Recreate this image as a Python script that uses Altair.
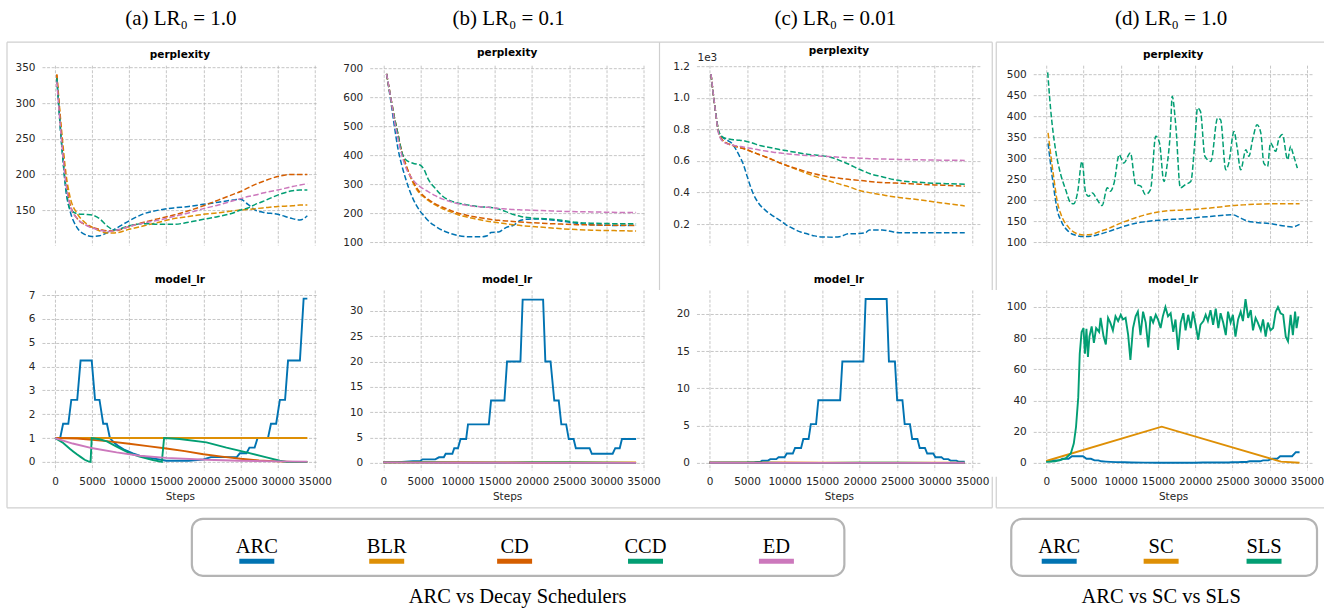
import altair as alt
import pandas as pd

# ----------------------------------------------------------------- data
SERIES_DECAY = ["ARC", "BLR", "CD", "CCD", "ED"]
SERIES_D = ["ARC", "SC", "SLS"]
ALL_SERIES = ["ARC", "BLR", "CD", "CCD", "ED", "SC", "SLS"]
PALETTE = {"ARC": "#0173b2", "BLR": "#de8f05", "CD": "#d55e00", "CCD": "#029e73",
           "ED": "#cc78bc", "SC": "#de8f05", "SLS": "#029e73"}
COLUMN_TITLES = ["(a) LR\u2080 = 1.0", "(b) LR\u2080 = 0.1", "(c) LR\u2080 = 0.01", "(d) LR\u2080 = 1.0"]
PANEL_TITLES = ["perplexity", "model_lr"]
CAPTIONS = ["ARC vs Decay Schedulers", "ARC vs SC vs SLS"]
X_TICKS = [0, 5000, 10000, 15000, 20000, 25000, 30000, 35000]
Y_TICKS_TOP = [[150, 200, 250, 300, 350], [100, 200, 300, 400, 500, 600, 700],
               [200, 400, 600, 800, 1000, 1200], [100, 150, 200, 250, 300, 350, 400, 450, 500]]
Y_TICKS_BOT = [[0, 1, 2, 3, 4, 5, 6, 7], [0, 5, 10, 15, 20, 25, 30], [0, 5, 10, 15, 20],
               [0, 20, 40, 60, 80, 100]]

# (a) LR0 = 1.0 perplexity
A_PPL_STEPS = [250, 1000, 1500, 2000, 3000, 4000, 5000, 6000, 7000, 8000, 10000, 12000, 14000,
               16000, 18000, 20000, 22000, 24000, 25000, 26000, 27000, 28000, 30000, 32000, 33000, 34000]
A_PPL_ARC = [335, 230, 175, 150, 125, 116, 113, 114, 118, 123, 135, 145, 150, 153, 155, 158, 161, 164,
             165, 158, 150, 147, 144, 138, 136, 142]
A_PPL_BLR = [340, 250, 200, 170, 145, 133, 126, 121, 118, 118, 123, 128, 133, 138, 141, 144, 146, 149,
             150, 151, 152, 153, 155, 156, 157, 157]
A_PPL_CD = [340, 240, 190, 160, 138, 130, 126, 123, 121, 121, 127, 133, 138, 143, 149, 156, 164, 172,
            176, 181, 186, 190, 197, 200, 200, 200]
A_PPL_CCD = [335, 230, 180, 152, 145, 144, 143, 138, 128, 122, 128, 131, 130, 130, 133, 137, 141, 146,
             150, 153, 158, 162, 171, 177, 178, 178]
A_PPL_ED = [330, 235, 185, 158, 138, 130, 125, 122, 120, 121, 127, 132, 136, 141, 146, 152, 157, 163,
            166, 169, 171, 174, 178, 183, 185, 187]

# (a) LR0 = 1.0 learning rate
A_LR_ARC_STEPS = [0, 700, 1100, 1800, 2200, 3000, 3450, 4950, 5400, 6000, 6500, 7000, 7400, 8000, 8600,
                  9400, 10500, 11400, 13200, 15000, 18000, 20000, 21000, 24500, 24900, 25800, 26200,
                  26900, 27300, 28700, 29100, 29800, 30300, 31000, 31400, 33000, 33500, 34000]
A_LR_ARC = [1.0, 1.0, 1.6, 1.6, 2.6, 2.6, 4.25, 4.25, 2.6, 2.6, 1.6, 1.6, 1.0, 0.8, 0.65, 0.5, 0.36,
            0.26, 0.15, 0.05, 0.05, 0.1, 0.2, 0.2, 0.36, 0.36, 0.6, 0.6, 1.0, 1.0, 1.6, 1.6, 2.6, 2.6,
            4.25, 4.25, 6.85, 6.85]
A_LR_BLR_STEPS = [0, 34000]
A_LR_BLR = [1.0, 1.0]
A_LR_CD_STEPS = [0, 3000, 7000, 10000, 12500, 15000, 17500, 20000, 22500, 25000, 27500, 30000, 32000, 34000]
A_LR_CD = [1.0, 0.98, 0.87, 0.76, 0.66, 0.56, 0.45, 0.32, 0.22, 0.13, 0.06, 0.02, 0.0, 0.0]
A_LR_CCD_STEPS = [0, 1000, 2000, 2500, 3000, 3500, 4000, 4500, 4800, 4950, 6000, 7000, 8300, 10100,
                  11400, 13200, 14400, 14700, 16800, 20400, 23100, 25800, 28500, 30300, 31200, 34000]
A_LR_CCD = [1.0, 0.82, 0.55, 0.43, 0.31, 0.2, 0.09, 0.02, 0.0, 1.0, 0.95, 0.86, 0.64, 0.36, 0.22, 0.08,
            0.0, 1.0, 0.96, 0.82, 0.6, 0.4, 0.19, 0.05, 0.0, 0.0]
A_LR_ED_STEPS = [0, 2400, 5100, 8300, 11400, 15000, 20400, 24800, 30300, 34000]
A_LR_ED = [1.0, 0.77, 0.57, 0.4, 0.26, 0.17, 0.09, 0.05, 0.02, 0.01]

# (b) LR0 = 0.1 perplexity
B_PPL_STEPS = [450, 1000, 1500, 2000, 2500, 3000, 4000, 5000, 5500, 6000, 7000, 8000, 9000, 10000,
               11000, 12000, 13000, 14000, 14500, 15500, 16500, 17500, 18500, 20000, 22000, 24000,
               26000, 28000, 30000, 32000, 34000]
B_PPL_ARC = [680, 590, 500, 420, 365, 320, 250, 205, 190, 175, 155, 140, 130, 123, 119, 118, 118, 122,
             133, 135, 150, 158, 175, 180, 178, 172, 165, 160, 158, 157, 158]
B_PPL_BLR = [680, 600, 530, 470, 410, 370, 305, 265, 255, 245, 228, 215, 205, 195, 188, 182, 177, 172,
             170, 167, 163, 160, 157, 154, 150, 146, 143, 141, 140, 139, 138]
B_PPL_CD = [680, 600, 530, 470, 410, 370, 310, 270, 258, 248, 232, 220, 210, 200, 194, 188, 184, 180,
            178, 175, 173, 171, 169, 167, 164, 162, 160, 159, 158, 158, 157]
B_PPL_CCD = [680, 600, 530, 470, 410, 385, 372, 365, 350, 320, 285, 258, 243, 235, 230, 225, 222, 220,
             219, 214, 205, 195, 188, 183, 180, 175, 168, 165, 164, 163, 163]
B_PPL_ED = [680, 600, 520, 455, 400, 360, 315, 290, 282, 275, 260, 248, 240, 233, 228, 224, 222, 220,
            219, 216, 214, 212, 211, 210, 208, 206, 205, 204, 203, 202, 202]

# (b) LR0 = 0.1 learning rate
B_LR_ARC_STEPS = [0, 2000, 3000, 4000, 5000, 5300, 7000, 7500, 8150, 8400, 9300, 9550, 10050, 10400,
                  11150, 11400, 14200, 14500, 16300, 16650, 18450, 18750, 21500, 21800, 22500, 23000,
                  23600, 23950, 24600, 24950, 25600, 25900, 27750, 28050, 30850, 31200, 31800, 32100, 34000]
B_LR_ARC = [0.1, 0.15, 0.25, 0.35, 0.4, 0.7, 0.7, 1.1, 1.1, 1.8, 1.8, 2.9, 2.9, 4.7, 4.7, 7.6, 7.6,
            12.3, 12.3, 20.0, 20.0, 32.2, 32.2, 20.0, 20.0, 12.3, 12.3, 7.6, 7.6, 4.7, 4.7, 2.9, 2.9,
            1.8, 1.8, 2.9, 2.9, 4.7, 4.7]
B_LR_FLAT_STEPS = [0, 5000, 10000, 15000, 20000, 25000, 30000, 34000]
B_LR_BLR = [0.1, 0.1, 0.1, 0.1, 0.1, 0.1, 0.1, 0.1]
B_LR_CD = [0.1, 0.095, 0.08, 0.056, 0.032, 0.013, 0.002, 0.0]
B_LR_CCD = [0.1, 0.1, 0.06, 0.02, 0.095, 0.07, 0.02, 0.0]
B_LR_ED = [0.1, 0.057, 0.037, 0.017, 0.009, 0.005, 0.002, 0.001]

# (c) LR0 = 0.01 perplexity
C_PPL_STEPS = [200, 700, 1300, 2000, 3000, 4000, 4500, 5000, 5800, 6500, 7500, 8500, 9500, 10200, 11000,
               12000, 13000, 14000, 15000, 16500, 17500, 18500, 20000, 20800, 21300, 23000, 24500, 25500,
               28000, 30000, 32000, 34000]
C_PPL_ARC = [1150, 950, 770, 740, 710, 630, 580, 505, 395, 335, 285, 250, 220, 195, 175, 152, 138, 125,
             118, 117, 122, 138, 140, 145, 163, 163, 150, 145, 145, 145, 145, 145]
C_PPL_BLR = [1150, 950, 770, 720, 700, 685, 678, 670, 655, 642, 625, 605, 585, 572, 557, 538, 520, 503,
             487, 465, 450, 437, 412, 404, 399, 385, 373, 367, 353, 340, 327, 315]
C_PPL_CD = [1150, 950, 770, 720, 700, 685, 678, 670, 655, 642, 625, 605, 585, 572, 560, 545, 530, 518,
            507, 495, 489, 483, 476, 472, 469, 463, 460, 458, 452, 448, 444, 440]
C_PPL_CCD = [1150, 950, 780, 745, 735, 730, 728, 722, 712, 700, 690, 680, 670, 665, 658, 650, 642, 637,
             633, 618, 600, 580, 545, 530, 520, 500, 482, 474, 464, 458, 455, 452]
C_PPL_ED = [1150, 950, 760, 715, 700, 692, 688, 683, 677, 670, 662, 655, 650, 645, 641, 637, 634, 632,
            630, 626, 623, 620, 617, 615, 614, 612, 610, 609, 607, 605, 604, 603]

# (c) LR0 = 0.01 learning rate
C_LR_ARC_STEPS = [0, 3000, 5000, 6000, 6800, 7000, 7800, 8100, 8900, 9200, 10000, 10300, 11100, 11400,
                  12200, 12500, 13200, 13500, 14200, 14500, 17400, 17700, 20500, 20800, 23600, 23900,
                  24700, 25000, 25700, 26000, 26700, 27000, 27700, 28000, 28700, 29000, 29800, 30100,
                  30900, 31200, 31800, 32100, 32900, 33200, 34000]
C_LR_ARC = [0.01, 0.03, 0.06, 0.1, 0.15, 0.3, 0.3, 0.5, 0.5, 0.75, 0.75, 1.25, 1.25, 2.0, 2.0, 3.2, 3.2,
            5.2, 5.2, 8.4, 8.4, 13.6, 13.6, 22.0, 22.0, 13.6, 13.6, 8.4, 8.4, 5.2, 5.2, 3.2, 3.2, 2.0,
            2.0, 1.25, 1.25, 0.75, 0.75, 0.5, 0.5, 0.3, 0.3, 0.15, 0.15]
C_LR_FLAT_STEPS = [0, 5000, 10000, 15000, 20000, 25000, 30000, 34000]
C_LR_BLR = [0.01, 0.01, 0.01, 0.01, 0.01, 0.01, 0.01, 0.01]
C_LR_CD = [0.01, 0.0095, 0.008, 0.0056, 0.0032, 0.0013, 0.0002, 0.0]
C_LR_CCD = [0.01, 0.01, 0.006, 0.002, 0.0095, 0.007, 0.002, 0.0]
C_LR_ED = [0.01, 0.0057, 0.0037, 0.0017, 0.0009, 0.0005, 0.0002, 0.0001]

# (d) ARC vs SC vs SLS (ARC run is the LR0 = 1.0 run of panel a)
D_PPL_SC = [360, 255, 195, 165, 135, 121, 117, 118, 124, 130, 145, 158, 168, 174, 176, 178, 181, 185,
            187, 188, 189, 190, 191, 191, 191, 191]
D_PPL_SLS_STEPS = [200, 600, 1250, 1900, 2600, 3300, 3700, 4200, 4800, 5300, 5700, 6200, 6800, 7500,
                   8200, 8600, 9100, 9800, 10400, 11300, 12000, 12700, 13300, 14000, 14700, 15200, 15800,
                   16200, 16700, 16900, 17400, 18000, 18700, 19400, 20000, 20300, 20700, 21300, 22100,
                   23000, 23400, 24100, 24500, 25200, 25600, 26100, 26800, 27200, 27700, 28300, 28800,
                   29200, 29700, 30100, 30800, 31200, 31700, 32400, 32800, 33100, 33700]
D_PPL_SLS = [504, 415, 320, 264, 225, 193, 191, 217, 292, 217, 209, 217, 202, 187, 229, 221, 240, 308,
             288, 312, 237, 233, 213, 225, 352, 336, 244, 280, 375, 447, 375, 229, 237, 244, 352, 419,
             411, 304, 292, 395, 391, 272, 288, 363, 328, 272, 320, 304, 344, 379, 360, 288, 280, 336,
             316, 344, 356, 296, 328, 312, 276]
D_LR_SC_STEPS = [0, 15500, 30800, 31500, 34000]
D_LR_SC = [1.2, 23.2, 1.8, 0.8, 0.1]
D_LR_SLS_STEPS = [0, 1200, 2600, 3300, 3700, 4000, 4300, 4500, 4750, 5000,
                  5200, 5400, 5600, 5800, 6100, 6400, 6700, 7100, 7300, 7700,
                  8000, 8300, 8600, 8950, 9300, 9650, 10000, 10300, 10650, 11000,
                  11300, 11650, 12000, 12300, 12650, 13000, 13350, 13700, 14000, 14350,
                  14700, 15000, 15350, 15650, 16000, 16350, 16700, 17050, 17350, 17700,
                  18050, 18400, 18700, 19050, 19400, 19700, 20050, 20400, 20700, 21100,
                  21400, 21700, 22050, 22400, 22750, 23100, 23400, 23750, 24100, 24400,
                  24750, 25050, 25400, 25750, 26100, 26400, 26750, 27100, 27450, 27750,
                  28100, 28400, 28800, 29100, 29450, 29750, 30100, 30450, 30800, 31100,
                  31450, 31800, 32150, 32450, 32800, 33100, 33400, 33600, 33850]
D_LR_SLS = [0.6, 1, 2.8, 6, 12.4, 23, 42, 70, 84, 86.5,
            70, 86, 68, 81, 87.5, 77, 86.5, 84, 93, 81,
            76, 93, 90, 85, 94, 91, 95, 92, 93, 82,
            66, 86.5, 94, 97, 82, 97, 90, 74, 94, 90,
            95, 92, 86.5, 94, 100, 94, 96, 84, 92, 72.5,
            90, 96, 85, 95, 86.5, 97, 88.6, 79, 88.6, 91,
            95, 91, 98, 88.6, 99, 86.5, 96, 90, 82, 97,
            90, 95, 81, 92, 97, 91, 105, 93, 98, 85,
            93, 90, 85, 92, 81, 90, 85, 86.5, 97, 100,
            96, 95, 81, 78, 95, 82, 97, 86.5, 94]

# ----------------------------------------------------------------- layout (pixels)
PLOT_LEFT, PLOT_TOP = 42, 65
COL_WIDTHS = [276, 275, 285, 280]
ROW_H = 180
TITLE_OFFSET = 5
X_DOMAINS = [[-1750, 35404], [-1814, 35134], [-1730, 36198], [-1743, 35805]]
Y_DOMAINS_TOP = [[101, 353], [89.7, 710.3], [67, 1206], [92.9, 521]]
Y_DOMAINS_BOT = [[-0.335, 7.21], [-1.38, 34.1], [-0.94, 23.2], [-4.5, 110.9]]
TITLE_X = [181, 509, 836, 1172]
TITLE_Y = 19
LEGEND1_X = [257, 387, 515, 646, 777]
LEGEND2_X = [1060, 1162, 1265]
LEGEND_TEXT_Y = 547
SWATCH_Y = [559, 564]
SWATCH_W = 35
LEGEND_BOXES = [[192, 519, 845, 576], [1012, 519, 1318, 576]]
CAPTION_X = [518, 1162]
CAPTION_Y = 597
FRAME_SEGMENTS = [[7, 42, 993, 42], [7, 42, 7, 508], [7, 508, 993, 508], [993, 42, 993, 290],
                  [993, 477, 993, 508], [660, 42, 660, 290], [997, 42, 1325, 42], [997, 42, 997, 290],
                  [997, 477, 997, 508], [997, 508, 1325, 508]]
SERIF = "Liberation Serif"
SANS = "DejaVu Sans"


def long_df(pairs):
    rows = []
    for name, steps, vals in pairs:
        for s, v in zip(steps, vals):
            rows.append({"step": s, "value": v, "series": name})
    return pd.DataFrame(rows)


PANELS = {
    (0, 0): [("ARC", A_PPL_STEPS, A_PPL_ARC), ("BLR", A_PPL_STEPS, A_PPL_BLR), ("CD", A_PPL_STEPS, A_PPL_CD),
             ("CCD", A_PPL_STEPS, A_PPL_CCD), ("ED", A_PPL_STEPS, A_PPL_ED)],
    (1, 0): [("ARC", B_PPL_STEPS, B_PPL_ARC), ("BLR", B_PPL_STEPS, B_PPL_BLR), ("CD", B_PPL_STEPS, B_PPL_CD),
             ("CCD", B_PPL_STEPS, B_PPL_CCD), ("ED", B_PPL_STEPS, B_PPL_ED)],
    (2, 0): [("ARC", C_PPL_STEPS, C_PPL_ARC), ("BLR", C_PPL_STEPS, C_PPL_BLR), ("CD", C_PPL_STEPS, C_PPL_CD),
             ("CCD", C_PPL_STEPS, C_PPL_CCD), ("ED", C_PPL_STEPS, C_PPL_ED)],
    (3, 0): [("ARC", A_PPL_STEPS, A_PPL_ARC), ("SC", A_PPL_STEPS, D_PPL_SC),
             ("SLS", D_PPL_SLS_STEPS, D_PPL_SLS)],
    (0, 1): [("ARC", A_LR_ARC_STEPS, A_LR_ARC), ("BLR", A_LR_BLR_STEPS, A_LR_BLR),
             ("CD", A_LR_CD_STEPS, A_LR_CD), ("CCD", A_LR_CCD_STEPS, A_LR_CCD), ("ED", A_LR_ED_STEPS, A_LR_ED)],
    (1, 1): [("ARC", B_LR_ARC_STEPS, B_LR_ARC), ("BLR", B_LR_FLAT_STEPS, B_LR_BLR),
             ("CD", B_LR_FLAT_STEPS, B_LR_CD), ("CCD", B_LR_FLAT_STEPS, B_LR_CCD), ("ED", B_LR_FLAT_STEPS, B_LR_ED)],
    (2, 1): [("ARC", C_LR_ARC_STEPS, C_LR_ARC), ("BLR", C_LR_FLAT_STEPS, C_LR_BLR),
             ("CD", C_LR_FLAT_STEPS, C_LR_CD), ("CCD", C_LR_FLAT_STEPS, C_LR_CCD), ("ED", C_LR_FLAT_STEPS, C_LR_ED)],
    (3, 1): [("ARC", A_LR_ARC_STEPS, A_LR_ARC), ("SC", D_LR_SC_STEPS, D_LR_SC),
             ("SLS", D_LR_SLS_STEPS, D_LR_SLS)],
}

COLOR_SCALE = alt.Scale(domain=ALL_SERIES, range=[PALETTE[n] for n in ALL_SERIES])


def data_layer(col, row):
    pairs = PANELS[(col, row)]
    top = row == 0
    df = long_df(pairs)
    x_axis = alt.Axis(values=X_TICKS, grid=True, labels=not top, ticks=False, domain=False,
                      orient="bottom", format="d", labelOverlap=False, labelFlush=False,
                      title=None if top else "Steps")
    if top and col == 2:
        y_axis = alt.Axis(values=Y_TICKS_TOP[col], grid=True, ticks=False, domain=False, orient="left",
                          title=None, labelOverlap=False, labelFlush=False,
                          labelExpr="format(datum.value / 1000, '.1f')")
    else:
        y_axis = alt.Axis(values=(Y_TICKS_TOP if top else Y_TICKS_BOT)[col], grid=True, ticks=False,
                          domain=False, orient="left", title=None, format="d",
                          labelOverlap=False, labelFlush=False)
    if top:
        mark = alt.Chart(df).mark_line(strokeWidth=1.5, strokeDash=[5.5, 2.4], interpolate="monotone")
    else:
        mark = alt.Chart(df).mark_line(strokeWidth=1.9)
    ydom = (Y_DOMAINS_TOP if top else Y_DOMAINS_BOT)[col]
    return mark.encode(
        x=alt.X("step:Q", scale=alt.Scale(domain=X_DOMAINS[col], nice=False, zero=False), axis=x_axis),
        y=alt.Y("value:Q", scale=alt.Scale(domain=ydom, nice=False, zero=False), axis=y_axis),
        color=alt.Color("series:N", scale=COLOR_SCALE, legend=None),
    )


# ----------------------------------------------------------------- annotation layers (pixel scales)
AX = alt.Scale(domain=[0, 1325], range=[-PLOT_LEFT, 1325 - PLOT_LEFT], nice=False, zero=False)
AY = alt.Scale(domain=[0, 609], range=[-PLOT_TOP, 609 - PLOT_TOP], nice=False, zero=False)


def ax(f):
    return alt.X(f"{f}:Q", scale=AX, axis=None)


def ay(f):
    return alt.Y(f"{f}:Q", scale=AY, axis=None)


bounds_df = pd.DataFrame([{"x": 0, "y": 0, "x2": 1325, "y2": 609}])
bounds = alt.Chart(bounds_df).mark_rect(opacity=0).encode(x=ax("x"), y=ay("y"), x2="x2:Q", y2="y2:Q")

seg_df = pd.DataFrame(FRAME_SEGMENTS, columns=["x", "y", "x2", "y2"])
frames = alt.Chart(seg_df).mark_rule(color="#cfcfcf", strokeWidth=1.2).encode(
    x=ax("x"), y=ay("y"), x2="x2:Q", y2="y2:Q")

box_df = pd.DataFrame(LEGEND_BOXES, columns=["x", "y", "x2", "y2"])
boxes = alt.Chart(box_df).mark_rect(fill="white", stroke="#b4b4b4", strokeWidth=2.2, cornerRadius=11).encode(
    x=ax("x"), y=ay("y"), x2="x2:Q", y2="y2:Q")

leg_rows = [{"text": n, "x": x} for n, x in zip(SERIES_DECAY, LEGEND1_X)] + \
           [{"text": n, "x": x} for n, x in zip(SERIES_D, LEGEND2_X)]
leg_df = pd.DataFrame(leg_rows)
leg_df["y"] = LEGEND_TEXT_Y
leg_df["sx"] = leg_df["x"] - SWATCH_W / 2
leg_df["sx2"] = leg_df["x"] + SWATCH_W / 2
leg_df["sy"] = SWATCH_Y[0]
leg_df["sy2"] = SWATCH_Y[1]
leg_df["color"] = [PALETTE[t] for t in leg_df["text"]]
leg_text = alt.Chart(leg_df).mark_text(font=SERIF, fontSize=20.5, color="black", align="center",
                                        baseline="middle").encode(x=ax("x"), y=ay("y"), text="text:N")
swatches = alt.Chart(leg_df).mark_rect().encode(
    x=ax("sx"), y=ay("sy"), x2="sx2:Q", y2="sy2:Q", color=alt.Color("color:N", scale=None))

title_df = pd.DataFrame({"text": COLUMN_TITLES, "x": TITLE_X, "y": [TITLE_Y] * 4})
col_titles = alt.Chart(title_df).mark_text(font=SERIF, fontSize=21, color="black", align="center",
                                           baseline="middle").encode(x=ax("x"), y=ay("y"), text="text:N")

cap_df = pd.DataFrame({"text": CAPTIONS, "x": CAPTION_X, "y": [CAPTION_Y] * 2})
captions = alt.Chart(cap_df).mark_text(font=SERIF, fontSize=20.5, color="black", align="center",
                                       baseline="middle").encode(x=ax("x"), y=ay("y"), text="text:N")

e3_df = pd.DataFrame([{"text": "1e3", "x": 698, "y": 58}])
e3 = alt.Chart(e3_df).mark_text(font=SANS, fontSize=10.5, color="#262626", align="left",
                                baseline="middle").encode(x=ax("x"), y=ay("y"), text="text:N")

# title of the first panel drawn here so the panel's own title is not pushed above the annotations
first_title_df = pd.DataFrame([{"text": PANEL_TITLES[0], "x": PLOT_LEFT + COL_WIDTHS[0] / 2,
                                "y": PLOT_TOP - TITLE_OFFSET}])
first_title = alt.Chart(first_title_df).mark_text(font=SANS, fontSize=10.5, fontWeight="bold",
                                                  color="black", align="center", baseline="bottom").encode(
    x=ax("x"), y=ay("y"), text="text:N")

annotation = [bounds, frames, boxes, swatches, leg_text, col_titles, captions, e3, first_title]

# ----------------------------------------------------------------- panels
charts = []
for row in range(2):
    for col in range(4):
        layer = data_layer(col, row)
        if row == 0 and col == 0:
            layer = alt.layer(*annotation, layer).resolve_scale(x="independent", y="independent")
            charts.append(layer.properties(width=COL_WIDTHS[col], height=ROW_H))
        else:
            charts.append(layer.properties(width=COL_WIDTHS[col], height=ROW_H,
                                           title=alt.TitleParams(PANEL_TITLES[row])))

chart = alt.concat(*charts, columns=4, spacing={"row": 45, "column": 52}, bounds="flush",
                   align="each").properties(padding=0, background="white")

chart = chart.configure_view(strokeWidth=0).configure_axis(
    labelFont=SANS, labelFontSize=10.5, labelColor="#262626", labelPadding=7,
    gridColor="#b8b8b8", gridDash=[3, 1.6], gridWidth=0.8,
    titleFont=SANS, titleFontSize=10.5, titleFontWeight="normal", titleColor="#262626", titlePadding=4,
).configure_title(font=SANS, fontSize=10.5, fontWeight="bold", color="black", offset=TITLE_OFFSET,
                  anchor="middle", baseline="bottom")

chart.save("out.html", embed_options={"renderer": "svg", "actions": False})
